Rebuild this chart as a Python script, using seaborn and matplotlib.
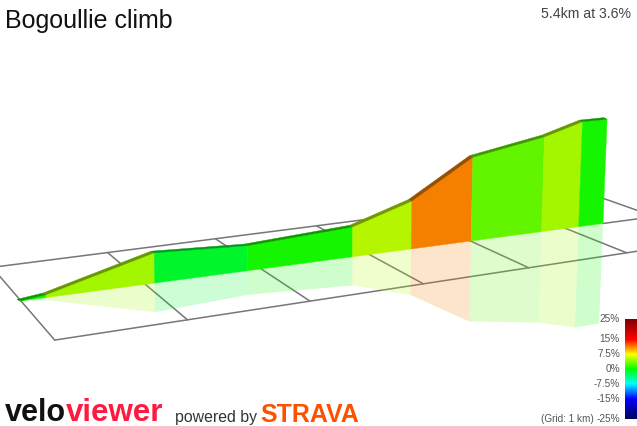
# -*- coding: utf-8 -*-
import numpy as np
import pandas as pd
import matplotlib
matplotlib.use("Agg")
import matplotlib.pyplot as plt
from matplotlib.colors import LinearSegmentedColormap, to_rgb
import seaborn as sns

# Climb profile
dist_km = [0.0, 0.21, 1.11, 1.92, 2.88, 3.44, 4.03, 4.75, 5.14, 5.40]
elev_m = [0, 4, 45, 39, 49, 81, 146, 171, 193, 194]
grade_pct = [0.7, 4.9, -1.2, 0.7, 5.6, 11.0, 3.0, 4.9, 0.7]

# Legend
legend_pct = [25, 15, 7.5, 0, -7.5, -15, -25]
legend_labels = ["25%", "15%", "7.5%", "0%", "-7.5%", "-15%", "-25%"]
legend_colors = ["#800000", "#ff0000", "#ffff00", "#00ff00", "#00ffff", "#0000ff", "#000060"]

title = "Bogoullie climb"
summary = "5.4km at 3.6%"
grid_km = [0, 1, 2, 3, 4, 5, 6]

sns.set_theme(style="white")
plt.rcParams["font.family"] = ["Liberation Sans", "DejaVu Sans"]

grade_cmap = LinearSegmentedColormap.from_list(
    "grade", [((p + 25) / 50, c) for p, c in sorted(zip(legend_pct, legend_colors))])


def base_xy(u):
    """Foot of the wall on the ground, km -> image pixels."""
    u = np.asarray(u, dtype=float)
    x = 20 + 125.45 * u / (1 + 0.03 * u)
    return x, 302 - 0.133 * (x - 20)


def wall_height(u, z):
    """Elevation in metres -> pixels, shrinks with distance."""
    return 0.72 * np.asarray(z, dtype=float) / (1 + 0.063 * np.asarray(u, dtype=float))


def fit_ground():
    # homography for the ground grid, (km, side) -> pixels, least squares on the marks
    pts = [(0, -1, 56, 339), (1, -1, 187, 320), (2, -1, 308, 302), (3, -1, 423, 285),
           (4, -1, 529, 270), (5, -1, 628, 255), (0, 1, -9.6, 268.6), (1, 1, 107, 253),
           (2, 1, 218, 242), (3, 1, 318, 228), (5, 1, 499, 202), (6, 1, 583, 191)]
    A, b = [], []
    for u, v, x, y in pts:
        A.append([u, v, 1, 0, 0, 0, -u * x, -v * x])
        A.append([0, 0, 0, u, v, 1, -u * y, -v * y])
        b += [x, y]
    sol = np.linalg.lstsq(np.array(A, dtype=float), np.array(b, dtype=float), rcond=None)[0]
    return np.append(sol, 1).reshape(3, 3)


H = fit_ground()


def ground_xy(u, v):
    p = H @ np.array([u, v, 1.0])
    return p[0] / p[2], p[1] / p[2]


def shade(color, factor):
    return tuple(c * factor for c in to_rgb(color))


fig = plt.figure(figsize=(6.37, 4.27), dpi=100)
ax = fig.add_axes([0, 0, 1, 1])

# Ground grid
rows = []
for km in grid_km:
    for v in (-1, 1):
        x, y = ground_xy(km, v)
        rows.append({"line": f"km{km}", "x": x, "y": y})
for v in (-1, 1):
    for km in (grid_km[0], grid_km[-1]):
        x, y = ground_xy(km, v)
        rows.append({"line": f"side{v}", "x": x, "y": y})
for km in (dist_km[-1], grid_km[-1]):
    x, y = base_xy(km)
    rows.append({"line": "mid", "x": float(x), "y": float(y)})
grid_df = pd.DataFrame(rows)
sns.lineplot(data=grid_df, x="x", y="y", units="line", estimator=None, sort=False,
             color="#777777", linewidth=1.1, ax=ax, legend=False, zorder=0)

# Wall, its reflection and the road ribbon on top
bx, by = base_xy(dist_km)
h = wall_height(dist_km, elev_m)
lean = (bx - 300) / 7700
top_x, top_y = bx + lean * h, by - h
refl_x, refl_y = bx - lean * h * 0.96, by + h * 0.96

for i, g in enumerate(grade_pct):
    col = shade(grade_cmap((g + 25) / 50)[:3], 0.96)
    j = [i, i + 1]
    ax.fill(np.r_[bx[j], refl_x[j][::-1]], np.r_[by[j], refl_y[j][::-1]],
            color=col, alpha=0.2, linewidth=0, zorder=1)
    ax.fill(np.r_[bx[j], top_x[j][::-1]], np.r_[by[j], top_y[j][::-1]],
            color=col, linewidth=0.3, zorder=2)
    ax.fill(np.r_[top_x[j], top_x[j][::-1] - 3.2], np.r_[top_y[j], top_y[j][::-1] - 1.6],
            color=shade(col, 0.62), linewidth=0.3, zorder=3)

ax.set_xlim(0, 637)
ax.set_ylim(427, 0)
ax.axis("off")

# Titles
ax.text(5, 28, title, fontsize=18, color="#111111", ha="left", va="baseline")
ax.text(631, 18, summary, fontsize=10.2, color="#444444", ha="right", va="baseline")

# Grade legend
cax = fig.add_axes([625 / 637, 1 - 420 / 427, 12 / 637, 100 / 427])
ramp = np.linspace(25, -25, 100).reshape(-1, 1)
sns.heatmap(ramp, ax=cax, cmap=grade_cmap, vmin=-25, vmax=25, cbar=False,
            xticklabels=False, yticklabels=False)
for pct, label in zip(legend_pct, legend_labels):
    ax.text(620, 369 - 2 * pct, label, fontsize=7.2, color="#555555", ha="right", va="center")
ax.text(594, 419, "(Grid: 1 km)", fontsize=7.2, color="#555555", ha="right", va="center")

# Footer
ax.text(5, 421, "velo", fontsize=22, fontweight="bold", color="#111111", ha="left", va="baseline")
ax.text(66, 421, "viewer", fontsize=22.5, fontweight="bold", color="#ff1a40", ha="left", va="baseline")
ax.text(175, 422, "powered by", fontsize=11.4, color="#333333", ha="left", va="baseline")
ax.text(260, 422, "STRAVA", fontsize=18, fontweight="bold", color="#fc5200", ha="left", va="baseline")

fig.savefig("out.png", dpi=100)
